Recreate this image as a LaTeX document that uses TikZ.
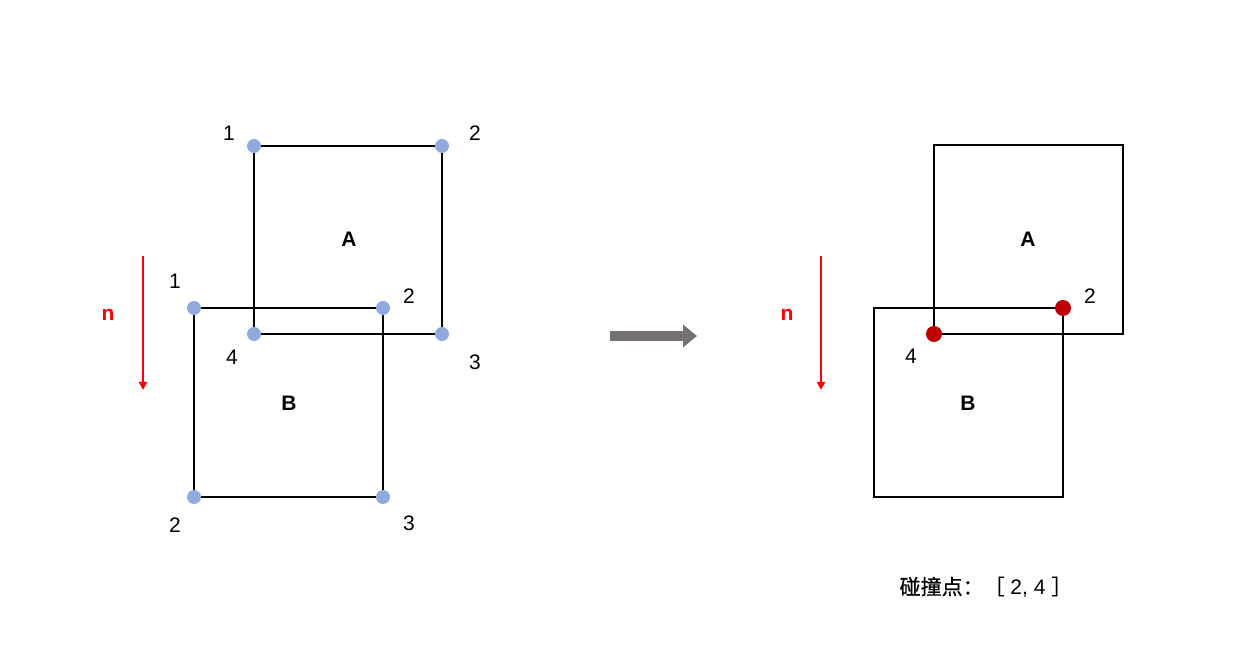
\documentclass[tikz,border=0pt]{standalone}
\usepackage{fontspec}
\setmainfont{Liberation Sans}
\newfontfamily\cjk[FakeBold=0.7]{Noto Sans CJK SC}
\usetikzlibrary{arrows.meta,positioning,calc}
\definecolor{DotBlue}{RGB}{143,170,220}
\definecolor{HitRed}{RGB}{192,0,0}
\definecolor{ArrGrey}{RGB}{118,113,113}
\tikzset{
  box/.style={line width=1pt,line join=miter},
  dot/.style={circle,fill=DotBlue,inner sep=0pt,minimum size=7pt},
  hit/.style={circle,fill=HitRed,inner sep=0pt,minimum size=8pt},
  num/.style={font=\fontsize{10.5}{12}\selectfont},
  boxlab/.style={font=\fontsize{10.5}{12}\selectfont\bfseries},
  dir/.style={red,line width=1pt,-{Triangle[length=4pt,width=4pt]}}
}
\begin{document}
\begin{tikzpicture}[x=0.5pt,y=-0.5pt]
\useasboundingbox (0,0) rectangle (1243,672);
% left: before
\coordinate (a1) at (254,146); \coordinate (a2) at (442,146);
\coordinate (a3) at (442,334); \coordinate (a4) at (254,334);
\coordinate (b1) at (194,308); \coordinate (b2) at (383,308);
\coordinate (b3) at (383,497); \coordinate (b4) at (194,497);
\draw[box] (a1) -- (a2) -- (a3) -- (a4) -- cycle;
\draw[box] (b1) -- (b2) -- (b3) -- (b4) -- cycle;
\foreach \p in {a1,a2,a3,a4,b1,b2,b3,b4}
  \node[dot] (d\p) at (\p) {};
\node[num] (la1) at (229,133) {1};
\node[num] (la2) at (475,133) {2};
\node[num] (la3) at (475,362) {3};
\node[num] (la4) at (232,357) {4};
\node[num] (lb1) at (175,281) {1};
\node[num] (lb2) at (409,296) {2};
\node[num] (lb3) at (409,523) {3};
\node[num] (lb4) at (175,525) {2};
\node[boxlab] (labA) at (349,239) {A};
\node[boxlab] (labB) at (289,403) {B};
\coordinate (n1s) at (143,256); \coordinate (n1e) at (143,390);
\draw[dir] (n1s) -- (n1e);
\node[boxlab,red] (n1) at (108,315) {n};
% grey arrow
\coordinate (gs) at (610,336); \coordinate (ge) at (697,336);
\draw[ArrGrey,line width=5pt,-{Triangle[length=7pt,width=11pt]}] (gs) -- (ge);
% right: after
\coordinate (c1) at (934,145); \coordinate (c2) at (1123,145);
\coordinate (c3) at (1123,334); \coordinate (c4) at (934,334);
\coordinate (e1) at (874,308); \coordinate (e2) at (1063,308);
\coordinate (e3) at (1063,497); \coordinate (e4) at (874,497);
\draw[box] (c1) -- (c2) -- (c3) -- (c4) -- cycle;
\draw[box] (e1) -- (e2) -- (e3) -- (e4) -- cycle;
\node[hit] (h4) at (c4) {};
\node[hit] (h2) at (e2) {};
\node[num] (lh2) at (1090,296) {2};
\node[num] (lh4) at (911,356) {4};
\node[boxlab] (labA2) at (1028,239) {A};
\node[boxlab] (labB2) at (968,403) {B};
\coordinate (n2s) at (821,256); \coordinate (n2e) at (821,390);
\draw[dir] (n2s) -- (n2e);
\node[boxlab,red] (n2) at (787,315) {n};
\node[font=\fontsize{10.5}{12}\selectfont] (res) at (986,587)
  {{\cjk 碰撞点：［} 2, 4 {\cjk ］}};
\end{tikzpicture}
\end{document}
